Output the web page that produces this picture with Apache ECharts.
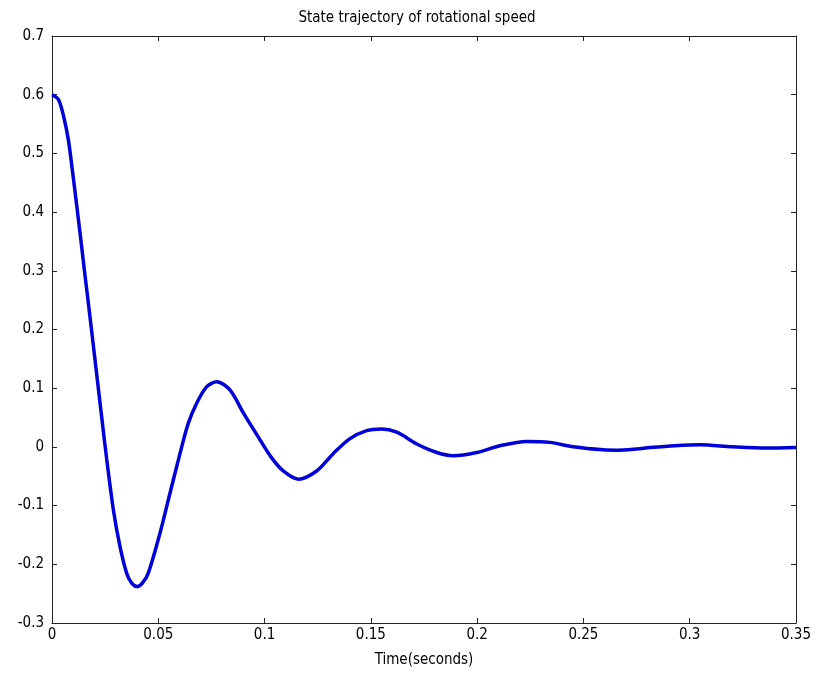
<!DOCTYPE html>
<html>
<head>
<meta charset="utf-8">
<script src="https://cdn.jsdelivr.net/npm/echarts@6/dist/echarts.min.js"></script>
<style>html,body{margin:0;padding:0;background:#fff;}#c{width:820px;height:679px;}</style>
</head>
<body>
<div id="c"></div>
<script>
const titleText = 'State trajectory of rotational speed';
const xName = 'Time(seconds)';
const times = [0, 0.003, 0.0055, 0.0077, 0.0097, 0.0116, 0.0135, 0.0152, 0.0171, 0.0187, 0.0205, 0.0234, 0.0257, 0.0289, 0.032, 0.0351, 0.0375, 0.0401, 0.0425, 0.0453, 0.0508, 0.0555, 0.0602, 0.0641, 0.068, 0.0728, 0.0775, 0.0837, 0.090, 0.0965, 0.1030, 0.1088, 0.1159, 0.1245, 0.1323, 0.140, 0.148, 0.1551, 0.1622, 0.1716, 0.181, 0.1888, 0.1998, 0.2107, 0.2233, 0.2343, 0.2452, 0.2594, 0.2657, 0.275, 0.2813, 0.2930, 0.3048, 0.32, 0.336, 0.35];
const speed = [0.6, 0.592, 0.5625, 0.523, 0.468, 0.412, 0.355, 0.302, 0.245, 0.196, 0.140, 0.050, -0.020, -0.108, -0.170, -0.215, -0.232, -0.238, -0.232, -0.215, -0.147, -0.079, -0.0115, 0.040, 0.074, 0.1026, 0.111, 0.097, 0.058, 0.020, -0.017, -0.041, -0.055, -0.041, -0.0115, 0.0137, 0.0278, 0.0307, 0.025, 0.005, -0.0095, -0.015, -0.0095, 0.002, 0.0094, 0.0077, 0.0002, -0.005, -0.0055, -0.0035, -0.0012, 0.002, 0.0036, 0.0002, -0.002, -0.001];

const FONT = "'Liberation Sans Narrow', 'DejaVu Sans Condensed', sans-serif";
const chart = echarts.init(document.getElementById('c'), null, {renderer: 'canvas'});
const lineStyle = {color: '#222', width: 1};
const tick = {show: true, inside: true, length: 5, lineStyle: {color: '#222'}};
chart.setOption({
  backgroundColor: '#fff',
  animation: false,
  title: {
    text: titleText, left: 412, textAlign: 'center', top: 6,
    textStyle: {fontFamily: FONT, fontSize: 15, fontWeight: 'normal', color: '#000'}
  },
  grid: {left: 52, right: 24, top: 36, bottom: 56, containLabel: false},
  xAxis: [{
    type: 'value', min: 0, max: 0.35, interval: 0.05, position: 'bottom',
    name: xName, nameLocation: 'middle', nameGap: 30,
    nameTextStyle: {fontFamily: FONT, fontSize: 15, color: '#000'},
    axisLine: {show: true, onZero: false, lineStyle},
    axisTick: tick,
    axisLabel: {fontFamily: FONT, fontSize: 15, color: '#000', margin: 5},
    splitLine: {show: false}
  }, {
    type: 'value', min: 0, max: 0.35, interval: 0.05, position: 'top',
    axisLine: {show: true, onZero: false, lineStyle},
    axisTick: tick, axisLabel: {show: false}, splitLine: {show: false}
  }],
  yAxis: [{
    type: 'value', min: -0.3, max: 0.7, interval: 0.1, position: 'left',
    axisLine: {show: true, onZero: false, lineStyle},
    axisTick: tick,
    axisLabel: {fontFamily: FONT, fontSize: 15, color: '#000', margin: 8},
    splitLine: {show: false}
  }, {
    type: 'value', min: -0.3, max: 0.7, interval: 0.1, position: 'right',
    axisLine: {show: true, onZero: false, lineStyle},
    axisTick: tick, axisLabel: {show: false}, splitLine: {show: false}
  }],
  series: [{
    type: 'line',
    data: times.map((t, i) => [t, speed[i]]),
    showSymbol: false,
    smooth: 0.3,
    lineStyle: {color: '#0000d8', width: 3.5},
    clip: true
  }]
});
</script>
</body>
</html>
